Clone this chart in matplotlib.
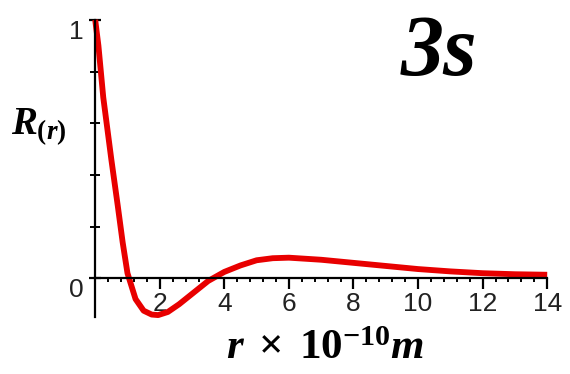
import numpy as np
import matplotlib.pyplot as plt
from matplotlib.ticker import MultipleLocator

# values
r = [0, 0.1, 0.25, 0.5, 0.7, 0.85, 1.0, 1.25, 1.5, 1.75, 1.95, 2.25, 2.6, 3.0, 3.5, 4.0, 4.5, 5.0,
     5.5, 6.0, 7.0, 8.0, 9.0, 10.0, 11.0, 12.0, 13.0, 14.0]
R = [1.0, 0.9, 0.7, 0.46, 0.28, 0.14, 0.02, -0.08, -0.125, -0.14, -0.142, -0.13, -0.1, -0.06,
     -0.01, 0.025, 0.05, 0.07, 0.078, 0.08, 0.072, 0.06, 0.048, 0.036, 0.027, 0.02, 0.016, 0.014]
xticks = [2, 4, 6, 8, 10, 12, 14]
yticks = [0, 1]

plt.rcParams['mathtext.fontset'] = 'custom'
plt.rcParams['mathtext.rm'] = 'Liberation Serif:bold'
plt.rcParams['mathtext.it'] = 'Liberation Serif:bold:italic'
plt.rcParams['mathtext.bf'] = 'Liberation Serif:bold'

fig = plt.figure(figsize=(5.7, 3.74), dpi=100)
ax = fig.add_axes([0.167, 0.152, 0.793, 0.795])
ax.plot(r, R, color='#e80000', lw=4.2, clip_on=False, solid_capstyle='butt')
ax.set_xlim(0, 14)
ax.set_ylim(-0.15, 1.0)

ax.spines['top'].set_visible(False)
ax.spines['right'].set_visible(False)
ax.spines['bottom'].set_position(('data', 0))
ax.spines['left'].set_linewidth(1.6)
ax.spines['bottom'].set_linewidth(1.6)

ax.set_xticks(xticks)
ax.set_yticks(yticks)
ax.xaxis.set_minor_locator(MultipleLocator(0.4))
ax.yaxis.set_minor_locator(MultipleLocator(0.2))
ax.tick_params(axis='x', which='major', direction='out', length=8, width=1.6,
               labelsize=19, pad=2)
ax.tick_params(axis='x', which='minor', direction='out', length=3, width=1.4)
ax.tick_params(axis='y', which='major', direction='inout', length=8, width=1.6,
               labelsize=19, pad=4)
ax.tick_params(axis='y', which='minor', direction='inout', length=7, width=1.4)
for lab in ax.get_xticklabels() + ax.get_yticklabels():
    lab.set_family('Liberation Sans')
    lab.set_color('#222222')
for lab in ax.get_yticklabels():
    lab.set_va('top')

fig.text(0.77, 0.855, '3s', fontsize=62, family='Liberation Serif',
         weight='bold', style='italic', ha='center', va='center')
fig.text(0.02, 0.66, r'$R_{(r)}$', fontsize=28, ha='left', va='center')
fig.text(0.57, 0.015, r'$r\;\times\;10^{-10}m$', fontsize=31, ha='center', va='bottom')

fig.savefig('out.png', dpi=100)
